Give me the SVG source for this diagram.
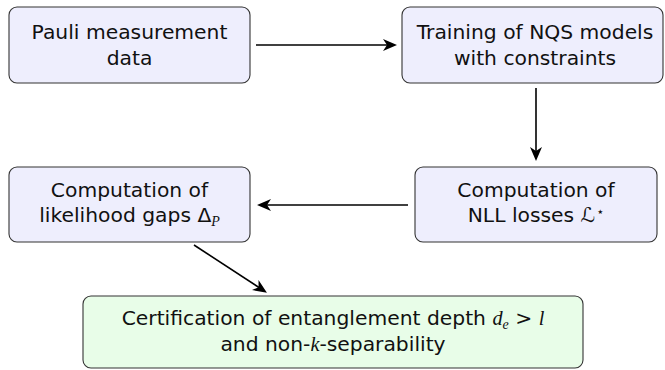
<svg xmlns="http://www.w3.org/2000/svg" width="665" height="370" viewBox="0 0 665 370">
<style>
.box{fill:#eeeefd;stroke:#333;stroke-width:1.1}
.gbox{fill:#e8fde8;stroke:#333;stroke-width:1.1}
text{font-family:"DejaVu Sans","Liberation Sans",sans-serif;font-size:20.3px;fill:#111;text-anchor:middle}
.m{font-family:"Liberation Serif","DejaVu Serif",serif;font-style:italic}
.edge{stroke:#000;stroke-width:1.6;fill:none;marker-end:url(#ah)}
</style>
<defs>
<marker id="ah" markerUnits="userSpaceOnUse" markerWidth="15" markerHeight="13" refX="10" refY="6" orient="auto">
<path d="M0,0 L14,6 L0,12 L4,6 z" fill="#000"/>
</marker>
</defs>
<g id="n1"><rect class="box" x="9" y="7" width="241" height="76" rx="8"/>
<text x="129.5" y="39">Pauli measurement</text><text x="129.5" y="65">data</text></g>
<g id="n2"><rect class="box" x="402" y="7" width="261" height="76" rx="8"/>
<text x="535" y="39">Training of NQS models</text><text x="535" y="65">with constraints</text></g>
<g id="n3"><rect class="box" x="9" y="167" width="241" height="75" rx="8"/>
<text x="129.5" y="197">Computation of</text><text x="129.5" y="222">likelihood gaps Δ<tspan class="m" font-size="14" dy="4">P</tspan></text></g>
<g id="n4"><rect class="box" x="415" y="167" width="242" height="75" rx="8"/>
<text x="536" y="197">Computation of</text><text x="536" y="222">NLL losses <tspan font-family="DejaVu Sans">ℒ</tspan><tspan font-size="13" dx="1" dy="-6">⋆</tspan></text></g>
<g id="n5"><rect class="gbox" x="83" y="296" width="500" height="72" rx="8"/>
<text x="333" y="325">Certification of entanglement depth <tspan class="m">d</tspan><tspan class="m" font-size="14" dy="4">e</tspan><tspan dy="-4"> &gt; </tspan><tspan class="m">l</tspan></text>
<text x="333" y="351">and non-<tspan class="m">k</tspan>-separability</text></g>
<g id="edges">
<line class="edge" x1="256" y1="45" x2="393" y2="45"/>
<line class="edge" x1="536" y1="88" x2="536" y2="157"/>
<line class="edge" x1="408" y1="205" x2="261" y2="205"/>
<line class="edge" x1="194" y1="245" x2="263.6" y2="290.5"/>
</g>
</svg>
